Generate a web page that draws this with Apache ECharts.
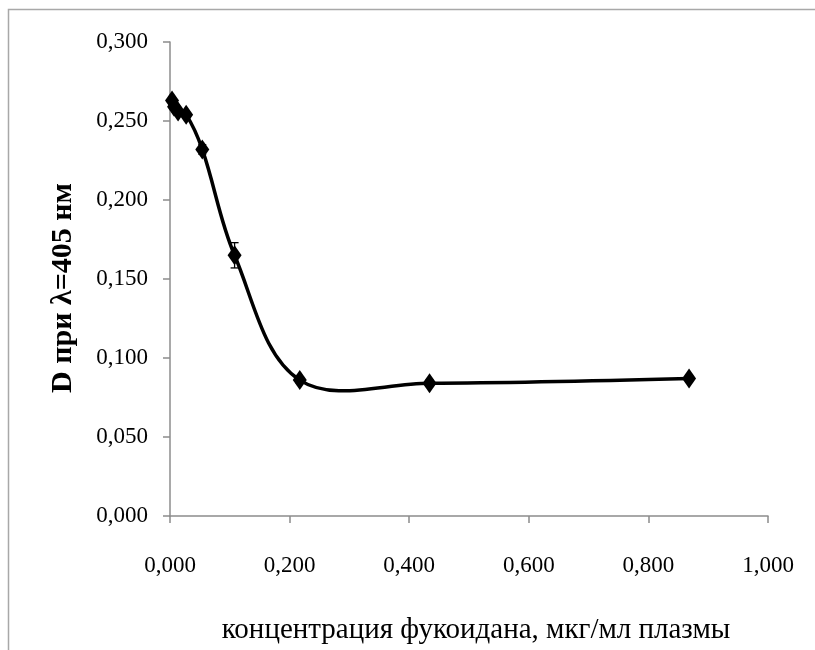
<!DOCTYPE html>
<html>
<head>
<meta charset="utf-8">
<script src="https://cdn.jsdelivr.net/npm/echarts@6/dist/echarts.min.js"></script>
<style>
  html, body { margin: 0; padding: 0; background: #fff; }
  #chart { width: 815px; height: 650px; }
</style>
</head>
<body>
<div id="chart"></div>
<script>
// Fucoidan concentration (µg/ml plasma) vs optical density at 405 nm
const concentration = [0.0034, 0.0068, 0.0135, 0.027, 0.054, 0.108, 0.217, 0.434, 0.868];
const density       = [0.263, 0.259, 0.256, 0.254, 0.232, 0.165, 0.086, 0.084, 0.087];
const densityError  = [0.002, 0.002, 0.002, 0.002, 0.003, 0.008, 0.002, 0.002, 0.002];

const xTicks = { min: 0, max: 1, step: 0.2 };
const yTicks = { min: 0, max: 0.3, step: 0.05 };

const xName = 'концентрация фукоидана, мкг/мл плазмы';
const yName = 'D при λ=405 нм';

const serif = '"Liberation Serif", "Times New Roman", serif';
const fmt = v => v.toFixed(3).replace('.', ',');

const points = concentration.map((x, i) => [x, density[i]]);
const bars = concentration.map((x, i) => [x, density[i] - densityError[i], density[i] + densityError[i]]);

// Smoothed curve through the points (cubic Bézier, tangents weighted by segment length),
// built in pixel space from the axis scales.
const SMOOTH = 0.36;
function smoothPath(px) {
  let d = 'M' + px[0][0] + ' ' + px[0][1];
  const n = px.length;
  const cps = px.map((p, i) => {
    if (i === 0 || i === n - 1) return { prev: p, next: p };
    const a = px[i - 1], b = px[i + 1];
    const vx = b[0] - a[0], vy = b[1] - a[1];
    const d0 = Math.hypot(p[0] - a[0], p[1] - a[1]);
    const d1 = Math.hypot(b[0] - p[0], b[1] - p[1]);
    const r = d1 / (d0 + d1);
    return {
      prev: [p[0] - vx * SMOOTH * (1 - r), p[1] - vy * SMOOTH * (1 - r)],
      next: [p[0] + vx * SMOOTH * r, p[1] + vy * SMOOTH * r]
    };
  });
  for (let i = 1; i < n; i++) {
    const c1 = cps[i - 1].next, c2 = cps[i].prev, p = px[i];
    d += ' C' + c1[0] + ' ' + c1[1] + ' ' + c2[0] + ' ' + c2[1] + ' ' + p[0] + ' ' + p[1];
  }
  return d;
}

const axisCommon = {
  axisLine: { show: true, lineStyle: { color: '#8c8c8c', width: 1.5 } },
  axisTick: { show: true, inside: false, length: 7, lineStyle: { color: '#8c8c8c', width: 1.5 } },
  splitLine: { show: false },
  axisLabel: { color: '#000', fontFamily: serif, fontSize: 23, formatter: fmt }
};

const chart = echarts.init(document.getElementById('chart'), null, { renderer: 'canvas' });
chart.setOption({
  animation: false,
  backgroundColor: '#fff',
  graphic: [{
    type: 'rect',
    shape: { x: 8.5, y: 9.5, width: 830, height: 680 },
    style: { fill: 'none', stroke: '#a8a8a8', lineWidth: 1.5 },
    silent: true
  }],
  grid: { left: 170, right: 47, top: 42, bottom: 121.5, containLabel: false },
  xAxis: Object.assign({}, axisCommon, {
    type: 'value',
    min: xTicks.min, max: xTicks.max, interval: xTicks.step,
    name: xName,
    nameLocation: 'middle',
    nameGap: 100,
    nameTextStyle: { color: '#000', fontFamily: serif, fontSize: 29, padding: [0, 0, 0, 14] },
    axisLabel: Object.assign({}, axisCommon.axisLabel, { margin: 38 })
  }),
  yAxis: Object.assign({}, axisCommon, {
    type: 'value',
    min: yTicks.min, max: yTicks.max, interval: yTicks.step,
    name: yName,
    nameLocation: 'middle',
    nameGap: 92,
    nameRotate: 90,
    nameTextStyle: { color: '#000', fontFamily: serif, fontSize: 30, fontWeight: 'bold', padding: [0, 18, 0, 0] },
    axisLabel: Object.assign({}, axisCommon.axisLabel, { margin: 22 })
  }),
  series: [
    {
      type: 'custom',
      data: points,
      z: 2,
      clip: false,
      renderItem: (params, api) => {
        if (params.dataIndex !== 0) return null;
        const px = points.map(p => api.coord(p));
        return {
          type: 'path',
          shape: { pathData: smoothPath(px) },
          style: { fill: 'none', stroke: '#000', lineWidth: 3.5 }
        };
      }
    },
    {
      type: 'scatter',
      data: points,
      symbol: 'diamond',
      symbolSize: [14, 20],
      itemStyle: { color: '#000', opacity: 1 },
      z: 3
    },
    {
      type: 'custom',
      data: bars,
      z: 4,
      renderItem: (params, api) => {
        const x = api.value(0);
        const lo = api.coord([x, api.value(1)]);
        const hi = api.coord([x, api.value(2)]);
        const half = 4;
        const style = { stroke: '#000', lineWidth: 1.3 };
        return {
          type: 'group',
          children: [
            { type: 'line', shape: { x1: lo[0], y1: lo[1], x2: hi[0], y2: hi[1] }, style },
            { type: 'line', shape: { x1: lo[0] - half, y1: lo[1], x2: lo[0] + half, y2: lo[1] }, style },
            { type: 'line', shape: { x1: hi[0] - half, y1: hi[1], x2: hi[0] + half, y2: hi[1] }, style }
          ]
        };
      }
    }
  ]
});
</script>
</body>
</html>
